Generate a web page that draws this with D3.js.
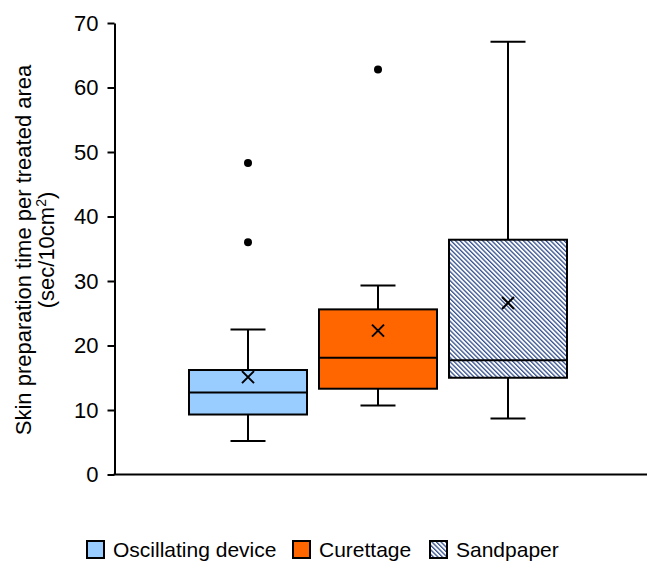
<!DOCTYPE html>
<html>
<head>
<meta charset="utf-8">
<title>Skin preparation time</title>
<style type="text/css">
body { margin: 0; background: #fff; font-family: "Liberation Sans", Arial, sans-serif; }
svg text { fill: #000; }
</style>
</head>
<body>
<svg id="chart"></svg>

<script src="https://d3js.org/d3.v7.min.js"></script>
<script type="text/javascript">
const WIDTH = 647;
const HEIGHT = 562;

// data
const groups = ["Oscillating device", "Curettage", "Sandpaper"];
const whiskerLow = [5.2, 10.7, 8.7];
const q1 = [9.3, 13.3, 15.0];
const median = [12.7, 18.1, 17.7];
const q3 = [16.2, 25.6, 36.4];
const whiskerHigh = [22.5, 29.3, 67.1];
const means = [15.1, 22.3, 26.6];
const outliers = [[48.3, 36.0], [62.8], []];
const yTicks = [0, 10, 20, 30, 40, 50, 60, 70];

const fills = ["#99CCFF", "#FF6600", "url(#hatch)"];

const svg = d3.select("#chart")
    .attr("width", WIDTH)
    .attr("height", HEIGHT);

// hatch pattern for sandpaper
const pat = svg.append("defs").append("pattern")
    .attr("id", "hatch")
    .attr("patternUnits", "userSpaceOnUse")
    .attr("width", 3.2)
    .attr("height", 3.2)
    .attr("patternTransform", "rotate(-45)");
pat.append("rect").attr("width", 3.2).attr("height", 3.2).attr("fill", "#fff");
pat.append("rect").attr("width", 1.3).attr("height", 3.2).attr("fill", "#34508F");

const x = d3.scaleBand()
    .domain(groups)
    .range([183, 573])
    .padding(0);
const boxW = 118;
const capW = 35;

const y = d3.scaleLinear()
    .domain([0, 70])
    .range([474.5, 23]);

const AXIS_X = 114.5;

// y axis
const yAxis = svg.append("g")
    .attr("transform", `translate(${AXIS_X},0)`)
    .call(d3.axisLeft(y).tickValues(yTicks).tickSize(7).tickPadding(9).tickSizeOuter(0));
yAxis.select(".domain").attr("stroke", "#000").attr("stroke-width", 2);
yAxis.selectAll(".tick line").attr("stroke", "#000").attr("stroke-width", 2);
yAxis.selectAll(".tick text")
    .style("font-family", "'Liberation Sans', Arial, sans-serif")
    .style("font-size", "22px")
    .attr("fill", "#000");

// x axis baseline
svg.append("line")
    .attr("x1", AXIS_X - 1).attr("x2", WIDTH)
    .attr("y1", y(0)).attr("y2", y(0))
    .attr("stroke", "#000").attr("stroke-width", 2);

// y title
svg.append("text")
    .attr("transform", `translate(31,250) rotate(-90)`)
    .attr("text-anchor", "middle")
    .style("font-size", "22px")
    .text("Skin preparation time per treated area");
const t2 = svg.append("text")
    .attr("transform", `translate(54,250) rotate(-90)`)
    .attr("text-anchor", "middle")
    .style("font-size", "22px");
t2.append("tspan").text("(sec/10cm");
t2.append("tspan").attr("dy", -8).style("font-size", "14px").text("2");
t2.append("tspan").attr("dy", 8).text(")");

// boxes
const g = svg.selectAll("g.box")
    .data(groups)
    .join("g")
    .attr("class", "box")
    .attr("transform", d => `translate(${x(d) + x.bandwidth() / 2},0)`);

g.append("line")
    .attr("y1", (d, i) => y(whiskerHigh[i]))
    .attr("y2", (d, i) => y(whiskerLow[i]))
    .attr("stroke", "#000").attr("stroke-width", 2);

g.selectAll("line.cap")
    .data((d, i) => [whiskerLow[i], whiskerHigh[i]])
    .join("line")
    .attr("class", "cap")
    .attr("x1", -capW / 2).attr("x2", capW / 2)
    .attr("y1", v => y(v)).attr("y2", v => y(v))
    .attr("stroke", "#000").attr("stroke-width", 2);

g.append("rect")
    .attr("x", -boxW / 2)
    .attr("width", boxW)
    .attr("y", (d, i) => y(q3[i]))
    .attr("height", (d, i) => y(q1[i]) - y(q3[i]))
    .attr("fill", (d, i) => fills[i])
    .attr("stroke", "#000").attr("stroke-width", 2);

g.append("line")
    .attr("x1", -boxW / 2).attr("x2", boxW / 2)
    .attr("y1", (d, i) => y(median[i])).attr("y2", (d, i) => y(median[i]))
    .attr("stroke", "#000").attr("stroke-width", 2);

// mean markers
g.append("path")
    .attr("transform", (d, i) => `translate(0,${y(means[i])})`)
    .attr("d", "M-6,-6L6,6M-6,6L6,-6")
    .attr("stroke", "#000").attr("stroke-width", 2).attr("fill", "none");

// outliers
g.selectAll("circle")
    .data((d, i) => outliers[i])
    .join("circle")
    .attr("cy", v => y(v))
    .attr("r", 4)
    .attr("fill", "#000");

// legend
const legendX = [87, 293, 430];
const leg = svg.selectAll("g.legend")
    .data(groups)
    .join("g")
    .attr("class", "legend")
    .attr("transform", (d, i) => `translate(${legendX[i]},541)`);
leg.append("rect")
    .attr("width", 17).attr("height", 17)
    .attr("fill", (d, i) => fills[i])
    .attr("stroke", "#000").attr("stroke-width", 2);
leg.append("text")
    .attr("x", 26).attr("y", 15.5)
    .style("font-size", "21px")
    .text(d => d);
</script>
</body>
</html>
